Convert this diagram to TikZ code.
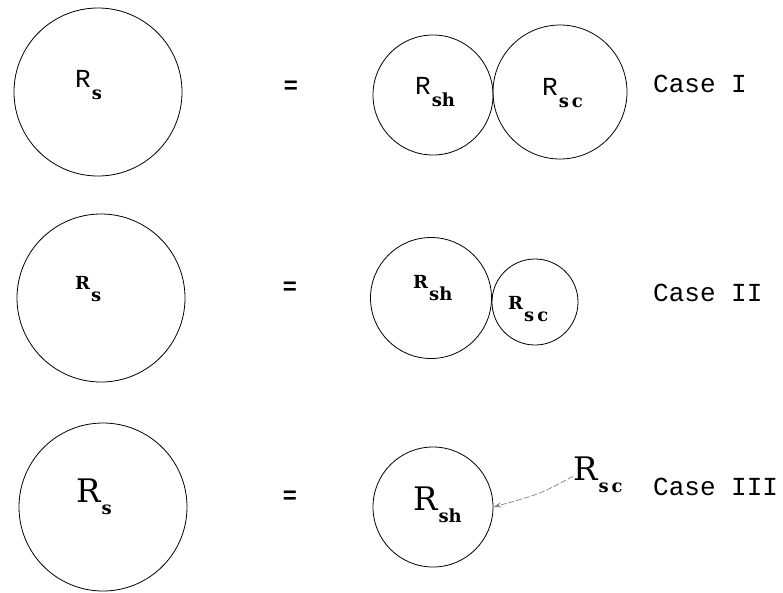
\documentclass[tikz,border=0pt]{standalone}
\usepackage{fontspec}
\newfontfamily\casefont{Liberation Mono}[Scale=2.6]
\newfontfamily\labfont{DejaVu Serif}[Scale=1.8]
\newfontfamily\eqfont{Liberation Sans}[Scale=2.4]
\usetikzlibrary{arrows.meta}
\tikzset{
  ring/.style={draw, circle, line width=0.8pt, inner sep=0pt},
  rlab/.style={inner sep=0pt, anchor=base west, font=\labfont},
  eq/.style={inner sep=0pt, font=\eqfont\bfseries},
  casel/.style={inner sep=0pt, anchor=west, font=\casefont},
}
\newcommand{\RtextA}[1]{{\casefont R}\kern1pt\raisebox{-12pt}{\bfseries #1}}
\newcommand{\RtextB}[1]{{\bfseries R}\kern1pt\raisebox{-12pt}{\bfseries #1}}
\newcommand{\RtextC}[1]{\scalebox{1.8}{R}\kern1pt\raisebox{-12pt}{\bfseries #1}}
\begin{document}
\begin{tikzpicture}[x=1pt,y=-1pt]
\useasboundingbox (0,0) rectangle (783,592);
% Row 1
\node[ring, minimum size=168pt] (s1) at (98,92) {};
\node[rlab] (s1l) at (75,87) {\RtextA{s}};
\node[eq] (e1) at (291,87) {=};
\node[ring, minimum size=120pt] (h1) at (433,95) {};
\node[rlab] (h1l) at (415,94) {\RtextA{sh}};
\node[ring, minimum size=134pt] (c1) at (560,92) {};
\node[rlab] (c1l) at (542,95) {\RtextA{s\,c}};
\node[casel] (k1) at (653,84) {Case I};
% Row 2
\node[ring, minimum size=168pt] (s2) at (101,298) {};
\node[rlab] (s2l) at (75,289) {\RtextB{s}};
\node[eq] (e2) at (290,288) {=};
\node[ring, minimum size=121pt] (h2) at (431,298) {};
\node[rlab] (h2l) at (413,288) {\RtextB{sh}};
\node[ring, minimum size=86pt] (c2) at (535,302) {};
\node[rlab] (c2l) at (508,309) {\RtextB{s\,c}};
\node[casel] (k2) at (653,293) {Case II};
% Row 3
\node[ring, minimum size=168pt] (s3) at (103,507) {};
\node[rlab] (s3l) at (76,502) {\RtextC{s}};
\node[eq] (e3) at (290,497) {=};
\node[ring, minimum size=120pt] (h3) at (433,507) {};
\node[rlab] (h3l) at (413,510) {\RtextC{sh}};
\node[rlab] (c3l) at (573,480) {\RtextC{s\,c}};
\node[casel] (k3) at (653,487) {Case III};
\draw[gray, line width=0.7pt, dash pattern=on 6pt off 2pt, -{Stealth[length=8pt,width=5pt]}] ([yshift=-2pt]c3l.west) .. controls (540,494) .. (h3.east);
\end{tikzpicture}
\end{document}
